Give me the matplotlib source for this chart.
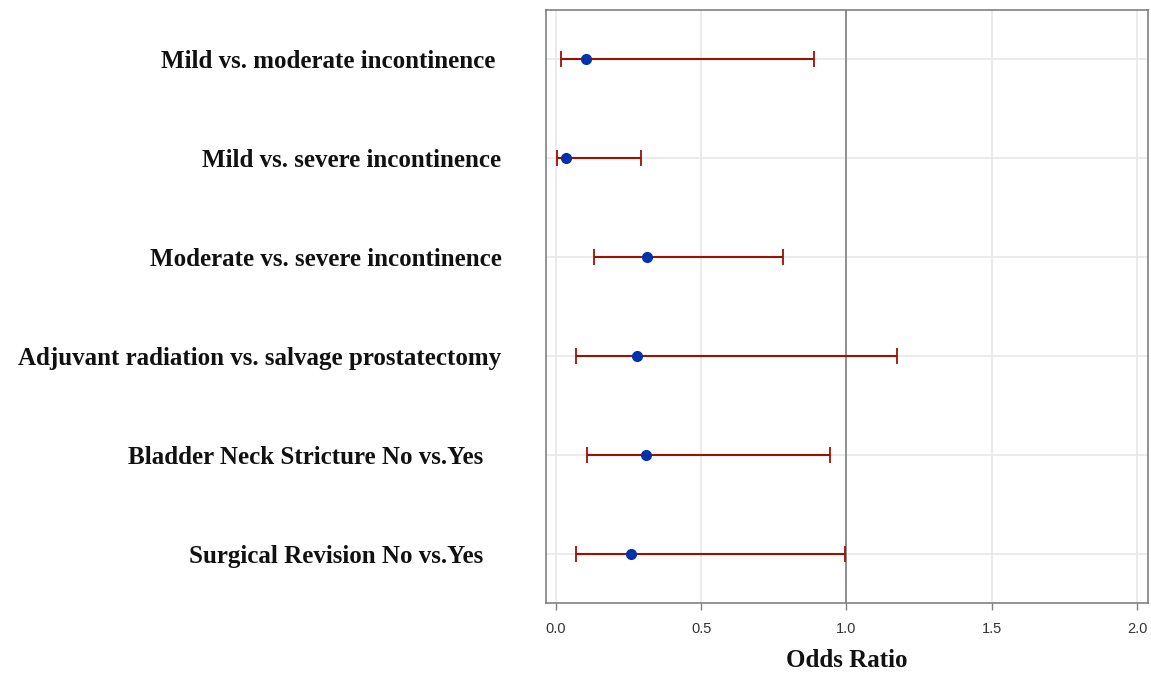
import numpy as np
import matplotlib
matplotlib.use('Agg')
import matplotlib.pyplot as plt

# odds ratios with 95% CI
labels = ['Mild vs. moderate incontinence ',
          'Mild vs. severe incontinence',
          'Moderate vs. severe incontinence',
          'Adjuvant radiation vs. salvage prostatectomy',
          'Bladder Neck Stricture No vs.Yes   ',
          'Surgical Revision No vs.Yes   ']
odds = [0.105, 0.036, 0.312, 0.278, 0.310, 0.258]
lower = [0.016, 0.005, 0.130, 0.069, 0.107, 0.069]
upper = [0.887, 0.292, 0.783, 1.174, 0.943, 0.995]

xticks = [0.0, 0.5, 1.0, 1.5, 2.0]

odds = np.array(odds)
err = [odds - np.array(lower), np.array(upper) - odds]
ypos = np.arange(len(labels))

fig = plt.figure(figsize=(11.51, 6.75), dpi=100)
ax = fig.add_axes([0.4744, 0.1067, 0.523, 0.8785])

ax.grid(True, color='#e8e8e8', linewidth=1.2)
ax.set_axisbelow(True)
ax.axvline(1.0, color='#808080', linewidth=1.2, zorder=1)

ax.errorbar(odds, ypos, xerr=err, fmt='none', ecolor='#a01000',
            elinewidth=1.5, capsize=6, capthick=1.3, zorder=2)
ax.plot(odds, ypos, 'o', color='#0033aa', markersize=7, zorder=3)

ax.set_xlim(-0.034, 2.038)
ax.set_ylim(5.5, -0.5)
ax.set_xticks(xticks)
ax.set_xticklabels(['%.1f' % t for t in xticks], fontsize=10.5,
                   color='#333333', family='Liberation Sans')
ax.set_yticks(ypos)
ax.set_yticklabels(labels, fontsize=18, fontweight='bold',
                   family='Liberation Serif', color='#111111')
ax.tick_params(axis='y', length=0, pad=32)
ax.tick_params(axis='x', length=5, color='#808080', width=1, pad=9)

for s in ax.spines.values():
    s.set_color('#808080')
    s.set_linewidth(1.2)

ax.set_xlabel('Odds Ratio', fontsize=18, fontweight='bold',
              family='Liberation Serif', color='#111111', labelpad=9)

fig.savefig('out.png', dpi=100)
